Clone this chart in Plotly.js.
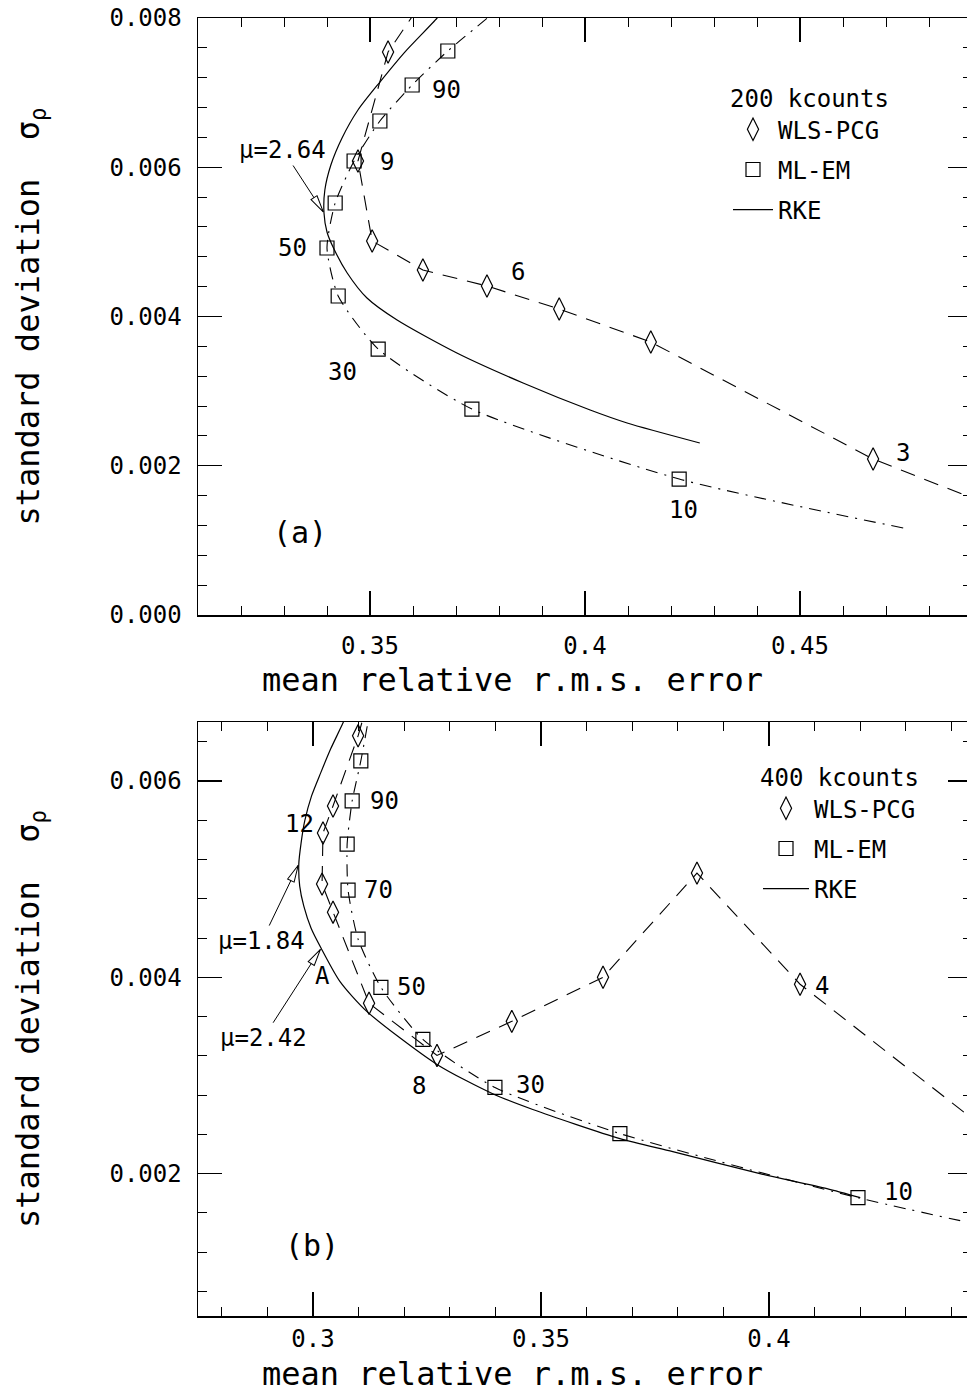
<!DOCTYPE html>
<html><head><meta charset="utf-8">
<script src="https://cdn.plot.ly/plotly-3.0.1.min.js"></script>
<style>html,body{margin:0;padding:0;overflow:hidden;background:#fff}#chart{width:976px;height:1395px}</style>
</head><body><div id="chart"></div><script>
const FONT = 'DejaVu Sans Mono, monospace';

// ---------- Panel (a): 200 kcounts ----------
const wlsA_iter = [3, 4, 5, 6, 7, 8, 9, 10];
const wlsA_err  = [0.4670, 0.4153, 0.3940, 0.3772, 0.3623, 0.3505, 0.3472, 0.3542];
const wlsA_sd   = [0.002090, 0.003658, 0.004100, 0.004409, 0.004623, 0.005012, 0.006084, 0.007544];
// dashed curve continues past the frame (estimated neighbouring iterations)
const wlsA_tailErr = [0.520, 0.3640];
const wlsA_tailSd  = [0.000887, 0.008375];

const emA_iter = [10, 20, 30, 40, 50, 60, 70, 80, 90, 100];
const emA_err  = [0.4219, 0.3737, 0.3519, 0.3426, 0.3400, 0.3419, 0.3463, 0.3523, 0.3598, 0.3681];
const emA_sd   = [0.001822, 0.002760, 0.003564, 0.004275, 0.004918, 0.005521, 0.006084, 0.006620, 0.007102, 0.007558];
const emA_tailErr = [0.4740, 0.3853];
const emA_tailSd  = [0.001166, 0.008375];

const rkeA_err = [0.3674, 0.3656, 0.3581, 0.3523, 0.3472, 0.3435, 0.3409, 0.3395, 0.3393, 0.3400, 0.3414, 0.3447, 0.3493, 0.3563, 0.3702, 0.3856, 0.4012, 0.4098, 0.4267];
const rkeA_sd  = [0.008134, 0.008000, 0.007544, 0.007142, 0.006767, 0.006392, 0.006030, 0.005695, 0.005387, 0.005132, 0.004931, 0.004583, 0.004248, 0.003953, 0.003511, 0.003109, 0.002747, 0.002573, 0.002305];

const labA_text = ['9', '90', '50', '6', '30', '10', '3', '(a)'];
const labA_err  = [0.3540, 0.3679, 0.3319, 0.3844, 0.3437, 0.4230, 0.4740, 0.3337];
const labA_sd   = [0.006070, 0.007035, 0.004918, 0.004596, 0.003256, 0.001407, 0.002171, 0.001099];
const labA_size = [24, 24, 24, 24, 24, 24, 24, 30];

// ---------- Panel (b): 400 kcounts ----------
const wlsB_iter = [4, 5, 6, 7, 8, 9, 10, 11, 12, 13, 14];
const wlsB_err  = [0.4068, 0.3842, 0.3636, 0.3436, 0.3272, 0.3123, 0.3044, 0.3020, 0.3022, 0.3044, 0.3099];
const wlsB_sd   = [0.003929, 0.005061, 0.004000, 0.003551, 0.003204, 0.003735, 0.004663, 0.004949, 0.005469, 0.005745, 0.006459];
const wlsB_tailErr = [0.460, 0.3121];
const wlsB_tailSd  = [0.0020, 0.006816];

const emB_iter = [10, 20, 30, 40, 50, 60, 70, 80, 90, 100];
const emB_err  = [0.4195, 0.3673, 0.3399, 0.3241, 0.3149, 0.3099, 0.3077, 0.3075, 0.3086, 0.3105];
const emB_sd   = [0.001755, 0.002408, 0.002878, 0.003367, 0.003898, 0.004388, 0.004888, 0.005357, 0.005796, 0.006204];
const emB_tailErr = [0.460, 0.3129];
const emB_tailSd  = [0.00134, 0.006816];

const rkeB_err = [0.3086, 0.3066, 0.3039, 0.3017, 0.2997, 0.2982, 0.2974, 0.2969, 0.2971, 0.2980, 0.2996, 0.3018, 0.3059, 0.3118, 0.3272, 0.3393, 0.3482, 0.3673, 0.3789, 0.3980, 0.4127, 0.4200];
const rkeB_sd  = [0.006816, 0.006592, 0.006327, 0.006082, 0.005847, 0.005592, 0.005367, 0.005153, 0.004929, 0.004724, 0.004500, 0.004296, 0.003959, 0.003653, 0.003112, 0.002816, 0.002653, 0.002357, 0.002224, 0.002000, 0.001847, 0.001755];

const labB_text = ['12', '8', '4', '90', '70', '50', '30', '10', 'A', '(b)'];
const labB_err  = [0.2971, 0.3232, 0.4116, 0.3156, 0.3143, 0.3217, 0.3478, 0.4283, 0.3020, 0.2998];
const labB_sd   = [0.005561, 0.002888, 0.003908, 0.005796, 0.004888, 0.003898, 0.002898, 0.001816, 0.004010, 0.001265];
const labB_size = [24, 24, 24, 24, 24, 24, 24, 24, 24, 30];

// regularisation-parameter call-outs on the RKE curves
const mu_panel = ['a', 'b', 'b'];
const mu_index = [8, 7, 11];
const mu_text  = ['\u03bc=2.64', '\u03bc=1.84', '\u03bc=2.42'];
const mu_dx    = [-41, -37, -58];
const mu_dy    = [-63, 77, 90];

const legendTitle = ['200 kcounts', '400 kcounts'];
const seriesNames = ['WLS-PCG', 'ML-EM', 'RKE'];
const xTitle = 'mean relative r.m.s. error';

// ---------- build ----------
const wrap = (t, a) => [t[0], ...a, t[1]];
const WLS_DASH = '15px,10px';
const EM_DASH = '12px,7px,2px,7px';
const LW = 1.1;

function panel(xa, ya, leg, wErr, wSd, wTE, wTS, eErr, eSd, eTE, eTS, rErr, rSd) {
  return [
    {x: wrap(wTE, wErr), y: wrap(wTS, wSd), xaxis: xa, yaxis: ya, mode: 'lines', showlegend: false,
     line: {color: '#000', width: LW, dash: WLS_DASH}, hoverinfo: 'skip'},
    {x: wrap(eTE, eErr), y: wrap(eTS, eSd), xaxis: xa, yaxis: ya, mode: 'lines', showlegend: false,
     line: {color: '#000', width: LW, dash: EM_DASH, shape: 'spline', smoothing: 0.6}, hoverinfo: 'skip'},
    {x: rErr, y: rSd, xaxis: xa, yaxis: ya, mode: 'lines', name: seriesNames[2], legend: leg,
     legendgroup: leg + 'r', legendrank: 3, line: {color: '#000', width: 1.2, shape: 'spline', smoothing: 0.7}},
    {x: wErr, y: wSd, xaxis: xa, yaxis: ya, mode: 'markers', name: seriesNames[0], legend: leg,
     legendgroup: leg + 'w', legendrank: 1,
     marker: {symbol: 'diamond-tall-open', size: 16, color: '#000', line: {color: '#000', width: 1.2}}},
    {x: eErr, y: eSd, xaxis: xa, yaxis: ya, mode: 'markers', name: seriesNames[1], legend: leg,
     legendgroup: leg + 'e', legendrank: 2,
     marker: {symbol: 'square-open', size: 14, color: '#000', line: {color: '#000', width: 1.2}}}
  ];
}

const data = [
  ...panel('x', 'y', 'legend', wlsA_err, wlsA_sd, wlsA_tailErr, wlsA_tailSd, emA_err, emA_sd, emA_tailErr, emA_tailSd, rkeA_err, rkeA_sd),
  ...panel('x2', 'y2', 'legend2', wlsB_err, wlsB_sd, wlsB_tailErr, wlsB_tailSd, emB_err, emB_sd, emB_tailErr, emB_tailSd, rkeB_err, rkeB_sd)
];

const W = 976, H = 1395;
const M = {l: 198, r: 4, t: 18, b: 79};
const PH = H - M.t - M.b;          // paper height
const PW = W - M.l - M.r;          // paper width
const py = p => (H - M.b - p) / PH; // page pixel -> paper y
const px = p => (p - M.l) / PW;    // page pixel -> paper x

const tickFont = {family: FONT, size: 24, color: '#000'};
const minorX = {ticks: 'inside', ticklen: 9, tickwidth: 1, tickcolor: '#000', dtick: 0.01, tick0: 0, showgrid: false};
const minorY = {ticks: 'inside', ticklen: 9, tickwidth: 1, tickcolor: '#000', dtick: 0.0004, tick0: 0, showgrid: false};
function ax(extra) {
  return Object.assign({
    showline: true, linecolor: '#000', linewidth: 1.5, mirror: 'ticks',
    ticks: 'inside', ticklen: 24, tickwidth: 1.2, tickcolor: '#000',
    showgrid: false, zeroline: false, tickfont: tickFont, fixedrange: true
  }, extra);
}
const yTitle = {text: 'standard deviation&nbsp;&nbsp;\u03c3<sub>\u03c1</sub>', font: {family: FONT, size: 32, color: '#000'}, standoff: 60};

const layout = {
  width: W, height: H, margin: M, paper_bgcolor: '#fff', plot_bgcolor: '#fff',
  font: {family: FONT, color: '#000'},
  xaxis: ax({domain: [0, 1], anchor: 'y', range: [0.31, 0.49], tick0: 0, dtick: 0.05, ticklabelstandoff: 9, minor: minorX}),
  yaxis: ax({domain: [py(615), 1], anchor: 'x', range: [0, 0.008], tick0: 0, dtick: 0.002, tickformat: '.3f',
             ticklabelstandoff: 10, title: yTitle, minor: minorY}),
  xaxis2: ax({domain: [0, 1], anchor: 'y2', range: [0.2748, 0.4445], tick0: 0, dtick: 0.05, ticklabelstandoff: 1, minor: minorX}),
  yaxis2: ax({domain: [0, py(722)], anchor: 'x2', range: [0.00055, 0.0066], tick0: 0, dtick: 0.002, tickformat: '.3f',
              ticklabelstandoff: 10, title: yTitle, minor: minorY}),
  legend: {x: px(728), y: py(76), xanchor: 'left', yanchor: 'top', bgcolor: 'rgba(0,0,0,0)', itemwidth: 40,
           font: {family: FONT, size: 24, color: '#000'}, traceorder: 'grouped', tracegroupgap: 6,
           title: {text: legendTitle[0], font: {family: FONT, size: 24, color: '#000'}}},
  legend2: {x: px(758), y: py(755), xanchor: 'left', yanchor: 'top', bgcolor: 'rgba(0,0,0,0)', itemwidth: 46,
            font: {family: FONT, size: 24, color: '#000'}, traceorder: 'grouped', tracegroupgap: 6,
            title: {text: legendTitle[1], font: {family: FONT, size: 24, color: '#000'}}},
  annotations: [],
  showlegend: true
};

const A = layout.annotations;
labA_text.forEach((t, i) => A.push({xref: 'x', yref: 'y', x: labA_err[i], y: labA_sd[i], text: t, showarrow: false,
  xanchor: 'center', yanchor: 'middle', font: {family: FONT, size: labA_size[i], color: '#000'}}));
labB_text.forEach((t, i) => A.push({xref: 'x2', yref: 'y2', x: labB_err[i], y: labB_sd[i], text: t, showarrow: false,
  xanchor: 'center', yanchor: 'middle', font: {family: FONT, size: labB_size[i], color: '#000'}}));
mu_text.forEach((t, i) => {
  const a = mu_panel[i] === 'a';
  A.push({xref: a ? 'x' : 'x2', yref: a ? 'y' : 'y2',
    x: (a ? rkeA_err : rkeB_err)[mu_index[i]], y: (a ? rkeA_sd : rkeB_sd)[mu_index[i]],
    ax: mu_dx[i], ay: mu_dy[i], text: t, showarrow: true, arrowhead: 2, arrowsize: 1, arrowwidth: 1,
    arrowcolor: '#000', font: {family: FONT, size: 24, color: '#000'}});
});
// x-axis titles (placed off-centre as in the original figure)
[680, 1374].forEach(yPix => A.push({
  xref: 'paper', yref: 'paper', x: px(512), y: py(yPix), xanchor: 'center', yanchor: 'middle',
  text: xTitle, showarrow: false, font: {family: FONT, size: 32, color: '#000'}}));

Plotly.newPlot('chart', data, layout, {staticPlot: true, displayModeBar: false}).then(gd => {
  // open, slender arrowheads as in the original
  gd.querySelectorAll('g.annotation-arrow-g').forEach(g => {
    const paths = g.querySelectorAll('path');
    if (paths.length > 1) {
      const head = paths[paths.length - 1];
      head.setAttribute('d', 'M-17,-3.6L0,0L-17,3.6Z');
      head.style.fill = '#fff';
      head.style.stroke = '#000';
      head.style.strokeWidth = '1px';
    }
  });
});
</script></body></html>
